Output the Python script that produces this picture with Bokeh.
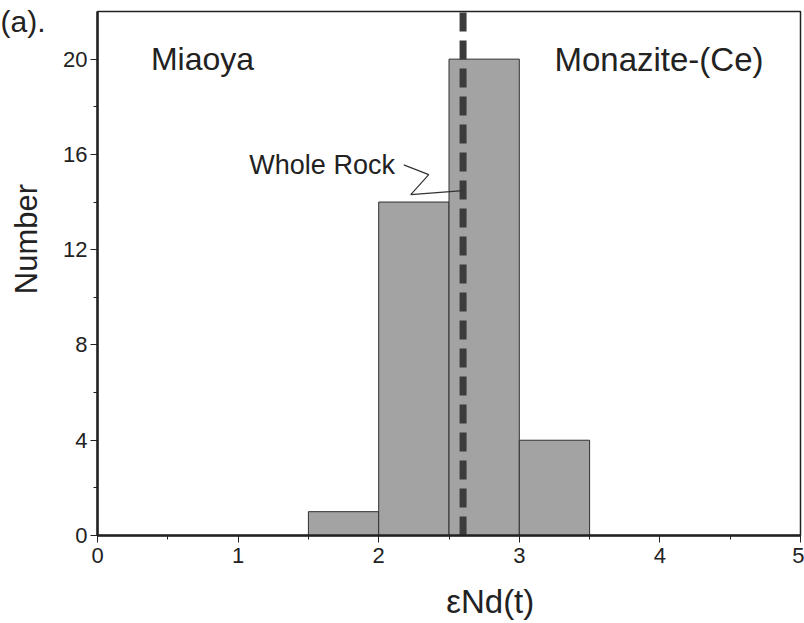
from bokeh.plotting import figure
from bokeh.models import Label, FixedTicker
from bokeh.embed import file_html
from bokeh.resources import INLINE

# Histogram bins of εNd(t) for monazite-(Ce)
bin_left = [1.5, 2.0, 2.5, 3.0]
bin_right = [2.0, 2.5, 3.0, 3.5]
counts = [1, 14, 20, 4]

# Whole-rock εNd(t) reference value
whole_rock = 2.6

# Leader line from the "Whole Rock" label to the dashed line
leader_x = [2.178, 2.356, 2.228, whole_rock]
leader_y = [15.56, 15.15, 14.31, 14.48]

x_ticks = [0, 1, 2, 3, 4, 5]
y_ticks = [0, 4, 8, 12, 16, 20]
y_max = 22

FONT = "Liberation Sans"
INK = "#222222"
NBSP = "\u00a0"

p = figure(width=804, height=623, output_backend="svg", toolbar_location=None,
           x_range=(0, 5), y_range=(0, y_max),
           min_border_left=97, min_border_right=4, min_border_top=11, min_border_bottom=88)

# Panel tag drawn as the title, pulled down beside the frame
p.title.text = "(a)."
p.title.align = "left"
p.title.offset = -97
p.title.standoff = -52
p.title.text_font = FONT
p.title.text_font_size = "30px"
p.title.text_font_style = "normal"
p.title.text_color = INK

p.quad(left=bin_left, right=bin_right, top=counts, bottom=0,
       fill_color="#a3a3a3", line_color="#303030", line_width=1)

# Whole-rock value as a dashed line drawn upward from zero
p.segment(x0=[whole_rock], y0=[0], x1=[whole_rock], y1=[y_max],
          line_color="#3c3c3c", line_width=7, line_dash="19 9")

p.line(leader_x, leader_y, line_color="#333333", line_width=1.2)

p.xgrid.visible = False
p.ygrid.visible = False
p.outline_line_color = INK
p.outline_line_width = 1.5
p.background_fill_color = "white"
p.border_fill_color = "white"

for ax in (p.xaxis[0], p.yaxis[0]):
    ax.axis_line_width = 2.5
    ax.axis_line_color = INK
    ax.major_tick_line_color = INK
    ax.minor_tick_line_color = INK
    ax.major_tick_in = 0
    ax.major_tick_out = 7
    ax.minor_tick_in = 0
    ax.minor_tick_out = 4
    ax.major_label_text_font = FONT
    ax.major_label_text_font_size = "22px"
    ax.major_label_text_color = INK
    ax.axis_label_text_font = FONT
    ax.axis_label_text_font_style = "normal"
    ax.axis_label_text_color = INK
    ax.axis_label_text_font_size = "31px"

p.xaxis.ticker = FixedTicker(ticks=x_ticks, minor_ticks=[0.5, 1.5, 2.5, 3.5, 4.5])
p.yaxis.ticker = FixedTicker(ticks=y_ticks, minor_ticks=[2, 6, 10, 14, 18])
p.xaxis.major_label_standoff = 5
p.yaxis.major_label_standoff = 3

# Axis titles sit a little off the frame centre
p.xaxis.axis_label = NBSP * 9 + "εNd(t)"
p.xaxis.axis_label_text_font_size = "33px"
p.xaxis.axis_label_standoff = 17
p.yaxis.axis_label = NBSP * 8 + "Number"
p.yaxis.axis_label_standoff = 16

p.add_layout(Label(x=0.38, y=20, text="Miaoya", text_font=FONT,
                   text_font_size="32px", text_color=INK, text_baseline="middle"))
p.add_layout(Label(x=3.25, y=20, text="Monazite-(Ce)", text_font=FONT,
                   text_font_size="33px", text_color=INK, text_baseline="middle"))
p.add_layout(Label(x=1.08, y=15.55, text="Whole Rock", text_font=FONT,
                   text_font_size="27px", text_color=INK, text_baseline="alphabetic"))

open("out.html", "w").write(file_html(p, INLINE))
